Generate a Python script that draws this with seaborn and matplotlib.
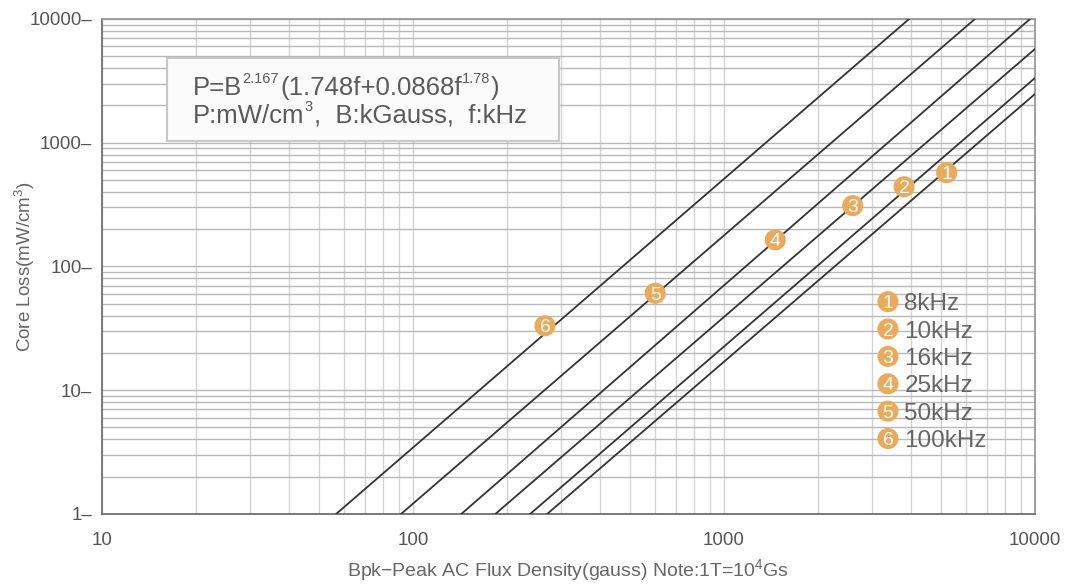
import numpy as np
import pandas as pd
import matplotlib
matplotlib.use("Agg")
import matplotlib.pyplot as plt
import matplotlib.patches as mpatches
from matplotlib.ticker import NullFormatter, FixedLocator
import seaborn as sns

# ── DATA ────────────────────────────────────────────────────
freq_labels = ['8kHz', '10kHz', '16kHz', '25kHz', '50kHz', '100kHz']
curve_ids = ['1', '2', '3', '4', '5', '6']

# each curve is a straight line on log-log axes: start and end point
start_b = [270, 238, 184, 143, 91.5, 56.6]        # gauss, where P = 1
start_p = [1, 1, 1, 1, 1, 1]
end_b = [10000, 10000, 10000, 9640, 6410, 3936]   # gauss
end_p = [2477, 3336, 5725, 10000, 10000, 10000]   # mW/cm3

# numbered markers sitting on the curves
marker_b = [5200, 3793, 2594, 1462, 601, 265.7]
marker_p = [573, 441, 310, 164, 60.7, 33.2]

x_ticks = [10, 100, 1000, 10000]
y_ticks = [1, 10, 100, 1000, 10000]

# formula text pieces: (text, is_superscript)
formula_line1 = [('P=B', False), ('2.167', True), ('(1.748f+0.0868f', False),
                 ('1.78', True), (')', False)]
formula_line2 = [('P:mW/cm', False), ('3', True), (',  B:kGauss,  f:kHz', False)]

# ── TABLES ──────────────────────────────────────────────────
curves = pd.DataFrame({
    'curve': curve_ids * 2,
    'B': start_b + end_b,
    'P': start_p + end_p,
})
markers = pd.DataFrame({'curve': curve_ids, 'B': marker_b, 'P': marker_p})

# ── STYLE ───────────────────────────────────────────────────
sns.set_style("white")
plt.rcParams['font.family'] = ['Liberation Sans', 'DejaVu Sans']
plt.rcParams['mathtext.fontset'] = 'custom'
plt.rcParams['mathtext.rm'] = 'Liberation Sans'
plt.rcParams['mathtext.it'] = 'Liberation Sans'

orange = '#EAAA5C'
text_gray = '#666666'

fig = plt.figure(figsize=(10.67, 5.84), dpi=100)
ax = fig.add_axes([0.0956, 0.1199, 0.8744, 0.8476])
ax.set_xscale('log')
ax.set_yscale('log')
ax.set_xlim(10, 10000)
ax.set_ylim(1, 10000)

# grid
ax.grid(which='both', axis='x', color='#d3d3d3', lw=1.0, zorder=0)
ax.grid(which='both', axis='y', color='#b8b8b8', lw=1.0, zorder=0)
ax.set_axisbelow(True)

# curves
sns.lineplot(data=curves, x='B', y='P', units='curve', estimator=None,
             color='#333333', lw=1.3, ax=ax, zorder=3)

# numbered markers
sns.scatterplot(data=markers, x='B', y='P', color=orange, s=230,
                edgecolor='none', ax=ax, zorder=4, legend=False)
for _, row in markers.iterrows():
    ax.text(row['B'], row['P'], row['curve'], color='white', fontsize=14,
            ha='center', va='center_baseline', zorder=5)

# legend drawn as circled numbers + labels
for i, (cid, lab) in enumerate(zip(curve_ids, freq_labels)):
    yy = 0.4289 - i * 0.0553
    ax.scatter([0.8424], [yy], s=230, color=orange, edgecolor='none',
               transform=ax.transAxes, zorder=4, clip_on=False)
    ax.text(0.8424, yy, cid, color='white', fontsize=14, ha='center',
            va='center_baseline', transform=ax.transAxes, zorder=5)
    ax.text(0.8600, yy, lab, color=text_gray, fontsize=17.5, ha='left',
            va='center_baseline', transform=ax.transAxes, zorder=5)

# formula box
box = mpatches.Rectangle((0.070, 0.7541), 0.420, 0.1665, transform=ax.transAxes,
                         facecolor='#fbfbfb', edgecolor='#c8c8c8', lw=1.5, zorder=4)
ax.add_patch(box)

renderer = fig.canvas.get_renderer()


def draw_pieces(x0, y0, pieces, size=18.5, sup_size=10.5, rise=12):
    # place text pieces one after another, superscripts raised by `rise` px
    x_disp, y_disp = ax.transAxes.transform((x0, y0))
    for txt, sup in pieces:
        yy = y_disp + (rise if sup else 0)
        pos = ax.transAxes.inverted().transform((x_disp, yy))
        t = ax.text(pos[0], pos[1], txt, fontsize=sup_size if sup else size,
                    color='#5a5a5a', ha='left', va='baseline',
                    transform=ax.transAxes, zorder=5)
        x_disp = t.get_window_extent(renderer=renderer).x1 + (1 if sup else 0)


draw_pieces(0.0979, 0.8465, formula_line1)
draw_pieces(0.0979, 0.790, formula_line2)

# ticks
ax.xaxis.set_major_locator(FixedLocator(x_ticks))
ax.set_xticklabels([str(v) for v in x_ticks])
ax.yaxis.set_major_locator(FixedLocator(y_ticks))
ax.set_yticklabels([str(v) + '–' for v in y_ticks])
ax.xaxis.set_minor_formatter(NullFormatter())
ax.yaxis.set_minor_formatter(NullFormatter())
ax.tick_params(which='minor', length=0)
ax.tick_params(axis='x', which='major', direction='out', length=6, width=1.5,
               color='#555555', labelsize=13.5, labelcolor='#555555', pad=7)
ax.tick_params(axis='y', which='major', length=0, labelsize=13.5,
               labelcolor='#555555', pad=7)

# spines
for side in ['left', 'bottom']:
    ax.spines[side].set_color('#707070')
    ax.spines[side].set_linewidth(1.3)
for side in ['top', 'right']:
    ax.spines[side].set_color('#999999')
    ax.spines[side].set_linewidth(1.3)

ax.set_xlabel(r'Bpk−Peak AC Flux Density(gauss) Note:1T=10$^{\mathrm{4}}$Gs',
              fontsize=14, color=text_gray, labelpad=6)
ax.set_ylabel(r'Core Loss(mW/cm$^{\mathrm{3}}$)', fontsize=13.5, color=text_gray)
ax.yaxis.set_label_coords(-0.0697, 0.5)

plt.savefig('out.png', dpi=100)
